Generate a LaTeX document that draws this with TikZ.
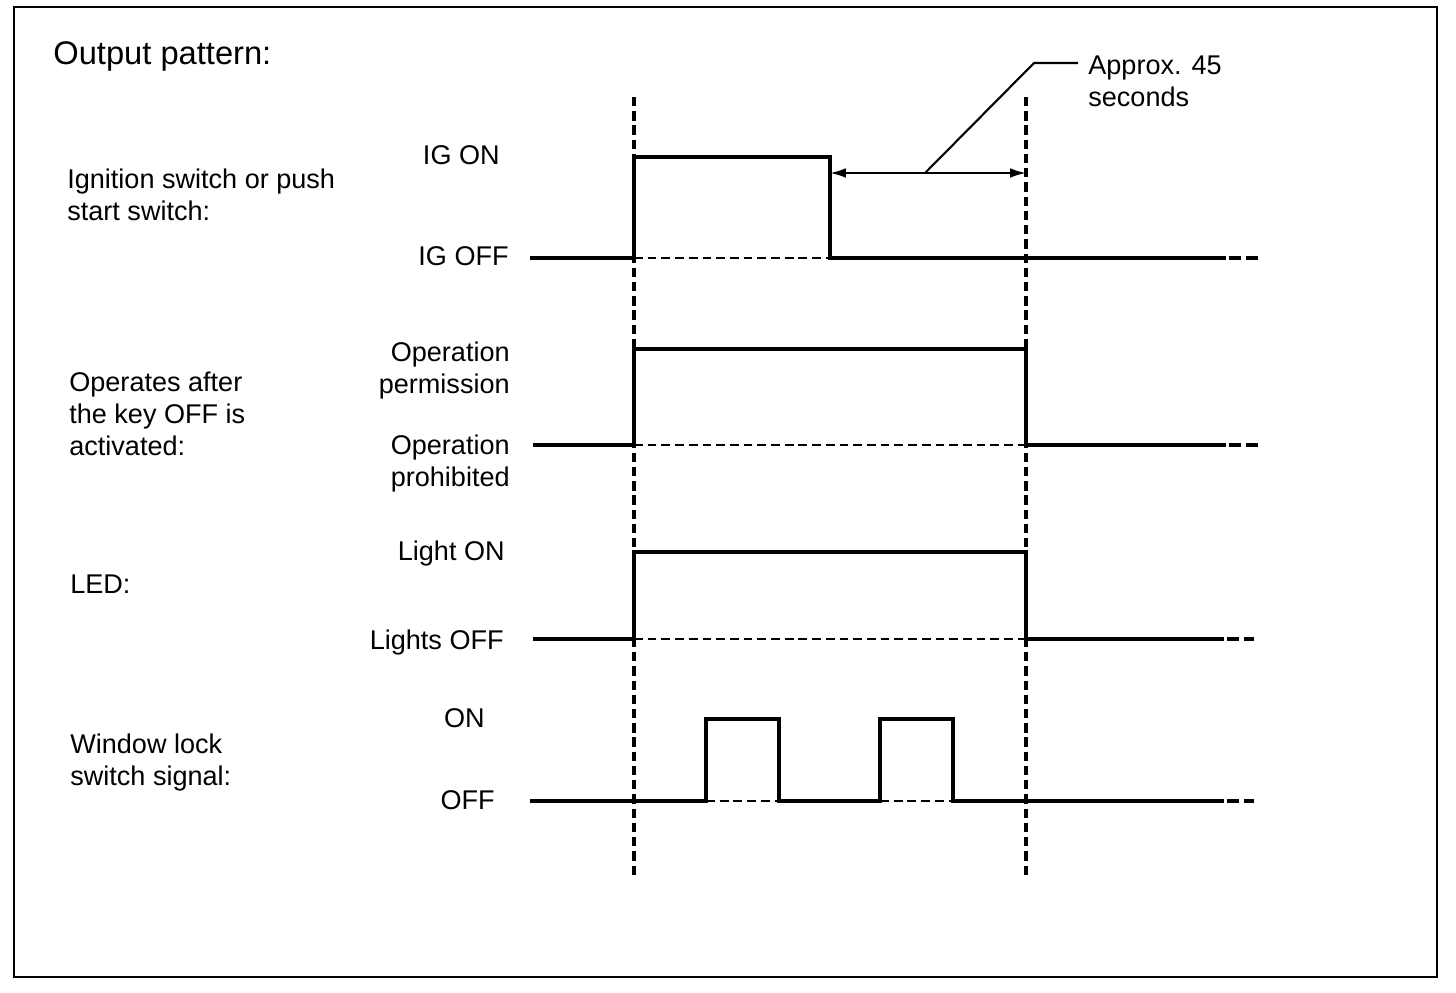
\documentclass[tikz,border=0pt]{standalone}
\usepackage{fontspec}
\setmainfont{Liberation Sans}
\usetikzlibrary{arrows.meta}
\newcommand\lblfont{\fontsize{15.4}{18.1}\selectfont}
\newcommand\ttlfont{\fontsize{18.6}{22}\selectfont}
\begin{document}
\begin{tikzpicture}[
    x=0.02cm, y=-0.02cm,
    frame/.style={line width=1.3pt},
    wave/.style={line width=1.9pt, line join=miter},
    base/.style={line width=0.85pt, dash pattern=on 5pt off 2.8pt},
    guide/.style={line width=2.2pt, dash pattern=on 5.3pt off 2.8pt},
    tail/.style={line width=1.8pt, dash pattern=on 6.8pt off 3pt},
    dim/.style={{Latex[length=9pt,width=5.5pt]}-{Latex[length=9pt,width=5.5pt]}, line width=1.2pt},
    lead/.style={line width=1.2pt},
    lbl/.style={font=\lblfont, inner sep=0pt, align=left, anchor=north west},
    lvl/.style={font=\lblfont, inner sep=0pt, align=right, anchor=north east}
  ]
    \useasboundingbox (0,0) rectangle (1456,992);
    \draw[frame] (14,7) rectangle (1437,977);
    % headings on the left
    \node[font=\ttlfont, inner sep=0pt, anchor=north west] (title) at (53,41) {Output pattern:};
    \node[lbl] (ig) at (67,169) {Ignition switch or push\\start switch:};
    \node[lbl] (opr) at (69,372) {Operates after\\the key OFF is\\activated:};
    \node[lbl] (led) at (70,575) {LED:};
    \node[lbl] (win) at (70,734) {Window lock\\switch signal:};
    % level names
    \node[lvl] (igon) at (500,145) {IG ON};
    \node[lvl] (igoff) at (509,246) {IG OFF};
    \node[lvl] (perm) at (510,342) {Operation\\permission};
    \node[lvl] (proh) at (510,435) {Operation\\prohibited};
    \node[lvl] (lton) at (505,541) {Light ON};
    \node[lvl] (ltoff) at (504,630) {Lights OFF};
    \node[lvl] (on) at (485,708) {ON};
    \node[lvl] (off) at (495,790) {OFF};
    % time marks
    \foreach \x in {634,1026} {
      \draw[guide] (\x,97) -- (\x,877);
    }
    % ignition
    \draw[wave] (530,258) -- (634,258) -- (634,157) -- (830,157) -- (830,258) -- (1226,258);
    \draw[base] (634,258) -- (830,258);
    \draw[tail] (1229,258) -- (1258,258);
    % key off operation
    \draw[wave] (533,445) -- (634,445) -- (634,349) -- (1026,349) -- (1026,445) -- (1226,445);
    \draw[base] (634,445) -- (1026,445);
    \draw[tail] (1229,445) -- (1258,445);
    % led
    \draw[wave] (533,639) -- (634,639) -- (634,552) -- (1026,552) -- (1026,639) -- (1224,639);
    \draw[base] (634,639) -- (1026,639);
    \draw[tail] (1227,639) -- (1254,639);
    % window lock switch
    \draw[wave] (530,801) -- (706,801) -- (706,719) -- (779,719) -- (779,801) -- (880,801)
      -- (880,719) -- (953,719) -- (953,801) -- (1224,801);
    \foreach \a/\b in {706/779,880/953} {
      \draw[base] (\a,801) -- (\b,801);
    }
    \draw[tail] (1227,801) -- (1254,801);
    % 45 s span
    \coordinate (fall) at (830,173);
    \coordinate (stop) at (1026,173);
    \coordinate (foot) at (925,173);
    \coordinate (knee) at (1034,63);
    \coordinate (tip) at (1078,63);
    \draw[dim] (fall) -- (stop);
    \draw[lead] (foot) -- (knee) -- (tip);
    \node[lbl] (approx) at (1088,56) {Approx. 45\\seconds};
  \end{tikzpicture}
\end{document}
